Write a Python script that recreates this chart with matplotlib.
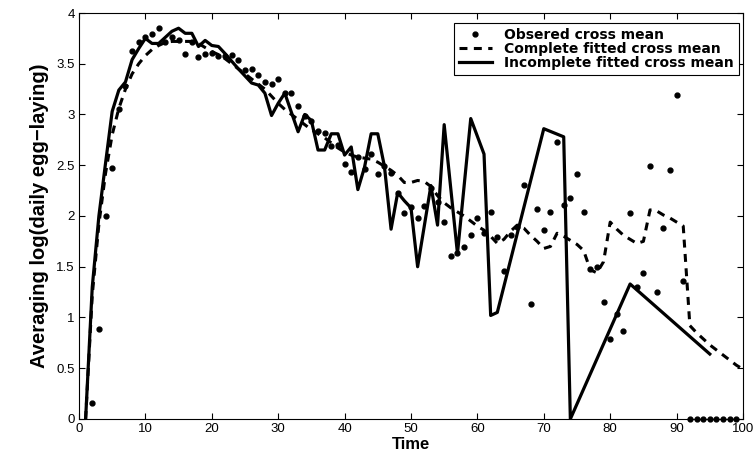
import matplotlib
matplotlib.use("Agg")
import matplotlib.pyplot as plt
import numpy as np

plt.rcParams['font.family'] = ['Liberation Sans', 'DejaVu Sans']

# Observed cross mean (dots)
obs_x = list(range(2, 100))
obs_y = [0.16, 0.89, 2.00, 2.47, 3.05, 3.28, 3.63, 3.71, 3.76, 3.79,
         3.85, 3.71, 3.76, 3.73, 3.60, 3.71, 3.57, 3.60, 3.61, 3.58,
         3.58, 3.59, 3.54, 3.44, 3.45, 3.39, 3.32, 3.30, 3.35, 3.21,
         3.21, 3.08, 2.99, 2.94, 2.84, 2.82, 2.69, 2.70, 2.51, 2.43,
         2.58, 2.46, 2.61, 2.41, 2.49, 2.42, 2.23, 2.03, 2.09, 1.98,
         2.10, 2.28, 2.14, 1.94, 1.61, 1.64, 1.69, 1.81, 1.98, 1.83,
         2.04, 1.79, 1.46, 1.81, 1.89, 2.31, 1.13, 2.07, 1.86, 2.04,
         2.73, 2.11, 2.18, 2.41, 2.04, 1.48, 1.50, 1.15, 0.79, 1.03,
         0.87, 2.03, 1.30, 1.44, 2.49, 1.25, 1.88, 2.45, 3.19, 1.36,
         0, 0, 0, 0, 0, 0, 0, 0]

# Complete fitted cross mean (dashed)
comp_x = list(range(1, 101))
comp_y = [0.00, 1.22, 1.92, 2.42, 2.80, 3.06, 3.25, 3.40, 3.50, 3.58,
          3.64, 3.68, 3.71, 3.72, 3.72, 3.72, 3.72, 3.70, 3.66, 3.62,
          3.59, 3.55, 3.50, 3.45, 3.40, 3.35, 3.30, 3.25, 3.18, 3.11,
          3.05, 3.00, 2.95, 2.90, 2.85, 2.81, 2.77, 2.72, 2.67, 2.63,
          2.60, 2.58, 2.57, 2.56, 2.53, 2.49, 2.45, 2.40, 2.33, 2.33,
          2.35, 2.34, 2.29, 2.20, 2.13, 2.08, 2.04, 2.00, 1.95, 1.90,
          1.86, 1.80, 1.73, 1.77, 1.85, 1.91, 1.88, 1.81, 1.75, 1.68,
          1.70, 1.83, 1.80, 1.76, 1.72, 1.66, 1.47, 1.44, 1.55, 1.94,
          1.87, 1.81, 1.77, 1.73, 1.75, 2.06, 2.05, 2.01, 1.98, 1.94,
          1.90, 0.92, 0.85, 0.79, 0.73, 0.68, 0.63, 0.58, 0.53, 0.49]

# Incomplete fitted cross mean (solid)
inc_x = [1, 2, 3, 4, 5, 6, 7, 8, 9, 10, 11, 12, 13, 14, 15, 16, 17, 18, 19, 20,
         21, 22, 24, 25, 26, 27, 28, 29, 30, 31, 33, 34, 35, 36, 37, 38, 39, 40,
         41, 42, 43, 44, 45, 46, 47, 48, 49, 50, 51, 53, 54, 55, 57, 59, 61, 62,
         63, 70, 73, 74, 83, 95]
inc_y = [0.00, 1.30, 2.00, 2.52, 3.03, 3.24, 3.32, 3.54, 3.65, 3.75, 3.70, 3.70,
         3.76, 3.82, 3.85, 3.80, 3.80, 3.67, 3.73, 3.68, 3.67, 3.60, 3.45, 3.38,
         3.31, 3.29, 3.21, 2.99, 3.11, 3.21, 2.83, 3.00, 2.94, 2.65, 2.65, 2.81,
         2.81, 2.60, 2.68, 2.26, 2.48, 2.81, 2.81, 2.49, 1.87, 2.23, 2.15, 2.08,
         1.50, 2.30, 1.91, 2.90, 1.63, 2.96, 2.61, 1.02, 1.05, 2.86, 2.78, 0.00,
         1.33, 0.64]

x_ticks = list(range(0, 101, 10))
y_ticks = [0, 0.5, 1, 1.5, 2, 2.5, 3, 3.5, 4]
y_tick_labels = ['0', '0.5', '1', '1.5', '2', '2.5', '3', '3.5', '4']

fig = plt.figure(figsize=(7.55, 4.53), dpi=100)
ax = fig.add_axes([0.1046, 0.0751, 0.8795, 0.8962])

ax.plot(obs_x, obs_y, linestyle='none', marker='o', markersize=3.5,
        color='black', label='Obsered cross mean', clip_on=False, zorder=3)
ax.plot(comp_x, comp_y, linestyle=(0, (2.6, 2.1)), linewidth=2.2,
        color='black', label='Complete fitted cross mean')
ax.plot(inc_x, inc_y, linestyle='-', linewidth=2.3, color='black',
        label='Incomplete fitted cross mean')

ax.set_xlim(0, 100)
ax.set_ylim(0, 4)
ax.set_xticks(x_ticks)
ax.set_xticklabels([str(t) for t in x_ticks])
ax.set_yticks(y_ticks)
ax.set_yticklabels(y_tick_labels)
ax.tick_params(direction='in', length=4, width=0.8, labelsize=9.5,
               top=True, right=True, pad=3)
for s in ax.spines.values():
    s.set_linewidth(0.8)

ax.set_xlabel('Time', fontsize=12, fontweight='bold', labelpad=1)
ax.set_ylabel('Averaging log(daily egg\u2212laying)', fontsize=14.5,
              fontweight='bold', labelpad=5)

leg = ax.legend(loc='upper right', bbox_to_anchor=(0.994, 0.975),
                borderaxespad=0, numpoints=1, fancybox=False,
                edgecolor='black', framealpha=1,
                prop={'family': 'DejaVu Sans', 'weight': 'bold', 'size': 10},
                handlelength=2.4, handletextpad=0.9, labelspacing=0.0,
                borderpad=0.35)
leg.get_frame().set_linewidth(0.8)

fig.savefig('out.png', dpi=100)
